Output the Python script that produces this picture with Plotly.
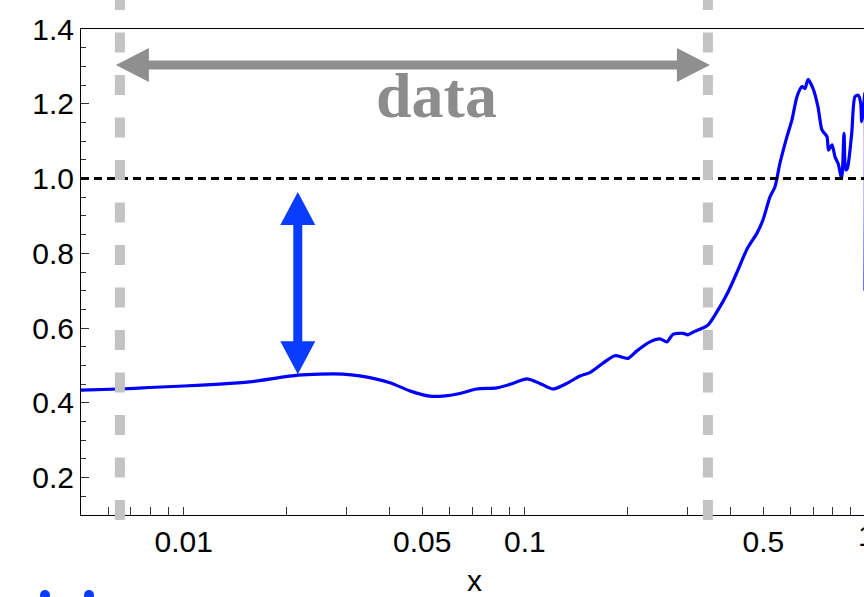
import numpy as np
import plotly.graph_objects as go

# ---- data -------------------------------------------------------------
x_vals = [0.005, 0.00649, 0.00795, 0.01, 0.01275, 0.0156, 0.0216, 0.02505, 0.02925,
          0.0328, 0.0402, 0.0460, 0.0526, 0.0575, 0.0645, 0.0723, 0.0828, 0.0922,
          0.1014, 0.1107, 0.1208, 0.1328, 0.1450, 0.1551, 0.1693, 0.1836, 0.2005,
          0.2130, 0.2326, 0.2488, 0.2609, 0.2716, 0.2906, 0.3006, 0.3110, 0.3261,
          0.3440, 0.3681, 0.3938, 0.4213, 0.4477, 0.4791, 0.4987, 0.5231, 0.5410,
          0.5595, 0.5866, 0.6067, 0.6276, 0.6491, 0.6624, 0.6759, 0.6992, 0.7231,
          0.7430, 0.7685, 0.7763, 0.7950, 0.8112, 0.8279, 0.8486, 0.8621, 0.8720,
          0.8815, 0.9081, 0.9284, 0.9493, 0.9649, 0.9714, 0.9820, 0.9926, 0.9934]
y_vals = [0.434, 0.437, 0.441, 0.445, 0.450, 0.456, 0.474, 0.477, 0.477,
          0.472, 0.454, 0.432, 0.418, 0.418, 0.425, 0.437, 0.440, 0.452,
          0.464, 0.452, 0.437, 0.452, 0.472, 0.481, 0.506, 0.526, 0.519,
          0.539, 0.563, 0.571, 0.563, 0.583, 0.586, 0.582, 0.589, 0.597,
          0.608, 0.648, 0.696, 0.755, 0.811, 0.854, 0.889, 0.951, 0.978,
          1.041, 1.112, 1.157, 1.219, 1.246, 1.241, 1.265, 1.241, 1.192,
          1.130, 1.112, 1.076, 1.090, 1.058, 1.041, 1.001, 1.121, 1.023,
          1.027, 1.121, 1.219, 1.223, 1.201, 1.152, 1.183, 1.230, 0.700]

reference_level = 1.0
data_window = [0.0065, 0.344]          # edges of the "data" interval
gap_x = 0.0216                         # where the gap to the reference level is marked
gap_top = 0.964

x_major = [0.01, 0.05, 0.1, 0.5, 1]
x_minor = [m * d for d in (0.001, 0.01, 0.1) for m in range(1, 10)] + [1.0]
y_ticks = [0.2, 0.4, 0.6, 0.8, 1.0, 1.2, 1.4]

# ---- geometry ---------------------------------------------------------
W, H = 864, 597
ML, MT, MB = 81, 29, 82
MR = 0
x_range = [np.log10(0.005), -0.00587]
y_range = [0.1, 1.4]
pw, ph = W - ML - MR, H - MT - MB
FS = 30


def to_paper(px, py):
    return (px - ML) / pw, (H - MB - py) / ph


def x_pix(v):
    return ML + (np.log10(v) - x_range[0]) / (x_range[1] - x_range[0]) * pw


def y_pix(v):
    return H - MB - (v - y_range[0]) / (y_range[1] - y_range[0]) * ph


def arrow_path(p0, p1, head_len, head_half, shaft_half):
    """Closed polygon for a double-headed arrow between two pixel points."""
    (x0, y0), (x1, y1) = p0, p1
    L = np.hypot(x1 - x0, y1 - y0)
    ux, uy = (x1 - x0) / L, (y1 - y0) / L
    nx, ny = -uy, ux
    pts = [
        (x0, y0),
        (x0 + ux * head_len + nx * head_half, y0 + uy * head_len + ny * head_half),
        (x0 + ux * head_len + nx * shaft_half, y0 + uy * head_len + ny * shaft_half),
        (x1 - ux * head_len + nx * shaft_half, y1 - uy * head_len + ny * shaft_half),
        (x1 - ux * head_len + nx * head_half, y1 - uy * head_len + ny * head_half),
        (x1, y1),
        (x1 - ux * head_len - nx * head_half, y1 - uy * head_len - ny * head_half),
        (x1 - ux * head_len - nx * shaft_half, y1 - uy * head_len - ny * shaft_half),
        (x0 + ux * head_len - nx * shaft_half, y0 + uy * head_len - ny * shaft_half),
        (x0 + ux * head_len - nx * head_half, y0 + uy * head_len - ny * head_half),
    ]
    out = []
    for i, (px, py) in enumerate(pts):
        qx, qy = to_paper(px, py)
        out.append(("M" if i == 0 else "L") + f"{qx:.5f},{qy:.5f}")
    return " ".join(out) + " Z"


fig = go.Figure()
fig.add_trace(go.Scatter(x=x_vals, y=y_vals, mode="lines",
                         line=dict(color="#0000ff", width=3.2, shape="spline", smoothing=0.7),
                         showlegend=False, hoverinfo="skip"))

shapes = []
# reference level
shapes.append(dict(type="line", xref="paper", yref="y", x0=0, x1=1,
                   y0=reference_level, y1=reference_level, layer="above",
                   line=dict(color="black", width=3, dash="8px,5px")))
# data interval boundaries (extend past the frame)
y_lo = to_paper(0, 520)[1]
y_hi = to_paper(0, 0)[1]
for xv in data_window:
    shapes.append(dict(type="line", xref="x", yref="paper", x0=xv, x1=xv,
                       y0=y_lo, y1=y_hi, layer="above",
                       line=dict(color="#c3c3c3", width=10, dash="20px,22.5px")))
# horizontal "data" arrow
ya = 65
shapes.append(dict(type="path", xref="paper", yref="paper", layer="above",
                   path=arrow_path((x_pix(data_window[0]) - 4, ya),
                                   (x_pix(data_window[1]) + 2, ya), 33, 17, 4.5),
                   fillcolor="#8f8f8f", line=dict(width=0)))
# vertical gap arrow
gx = x_pix(gap_x)
shapes.append(dict(type="path", xref="paper", yref="paper", layer="above",
                   path=arrow_path((gx, y_pix(gap_top)), (gx, y_pix(0.474) - 1), 33, 17.5, 4.5),
                   fillcolor="#0a3cff", line=dict(width=0)))
# legend markers below the axis
for cx in (45, 89):
    a = to_paper(cx - 5, 590)
    b = to_paper(cx + 5, 600)
    shapes.append(dict(type="circle", xref="paper", yref="paper",
                       x0=a[0], x1=b[0], y0=b[1], y1=a[1],
                       fillcolor="#0a3cff", line=dict(width=0)))

annotations = [
    dict(text="<b>data</b>", xref="paper", yref="paper",
         x=to_paper(436, 0)[0], y=to_paper(0, 96)[1], showarrow=False,
         font=dict(family="Liberation Serif", size=64, color="#8c8c8c"),
         xanchor="center", yanchor="middle"),
    dict(text="x", xref="paper", yref="paper",
         x=to_paper(475, 0)[0], y=to_paper(0, 580)[1], showarrow=False,
         font=dict(family="Liberation Sans", size=FS, color="black"),
         xanchor="center", yanchor="middle"),
    dict(text="1", xref="paper", yref="paper",
         x=to_paper(x_pix(1.0), 0)[0], y=to_paper(0, 535)[1], showarrow=False,
         font=dict(family="Liberation Sans", size=FS, color="black"),
         xanchor="center", yanchor="middle"),
]

x_text = [("%g" % v if any(abs(v - m) < 1e-12 for m in x_major) and v < 1 else "")
          for v in x_minor]

fig.update_layout(
    width=W, height=H,
    margin=dict(l=ML, r=MR, t=MT, b=MB, pad=0),
    paper_bgcolor="white", plot_bgcolor="white",
    font=dict(family="Liberation Sans", size=FS, color="black"),
    shapes=shapes, annotations=annotations,
    xaxis=dict(type="log", range=x_range, showgrid=False, zeroline=False,
               tickmode="array", tickvals=x_minor, ticktext=x_text,
               ticks="inside", ticklen=8, tickwidth=1, tickcolor="#333",
               showline=True, linecolor="black", linewidth=1, mirror=True,
               tickfont=dict(size=FS)),
    yaxis=dict(range=y_range, showgrid=False, zeroline=False,
               tickmode="array", tickvals=y_ticks, ticktext=["%.1f" % v for v in y_ticks],
               ticks="inside", ticklen=8, tickwidth=1, tickcolor="#333",
               minor=dict(dtick=0.05, tick0=0, ticks="inside", ticklen=5,
                          tickcolor="#333", showgrid=False),
               showline=True, linecolor="black", linewidth=1, mirror=True,
               tickfont=dict(size=FS)),
)

fig.write_html("out.html")
